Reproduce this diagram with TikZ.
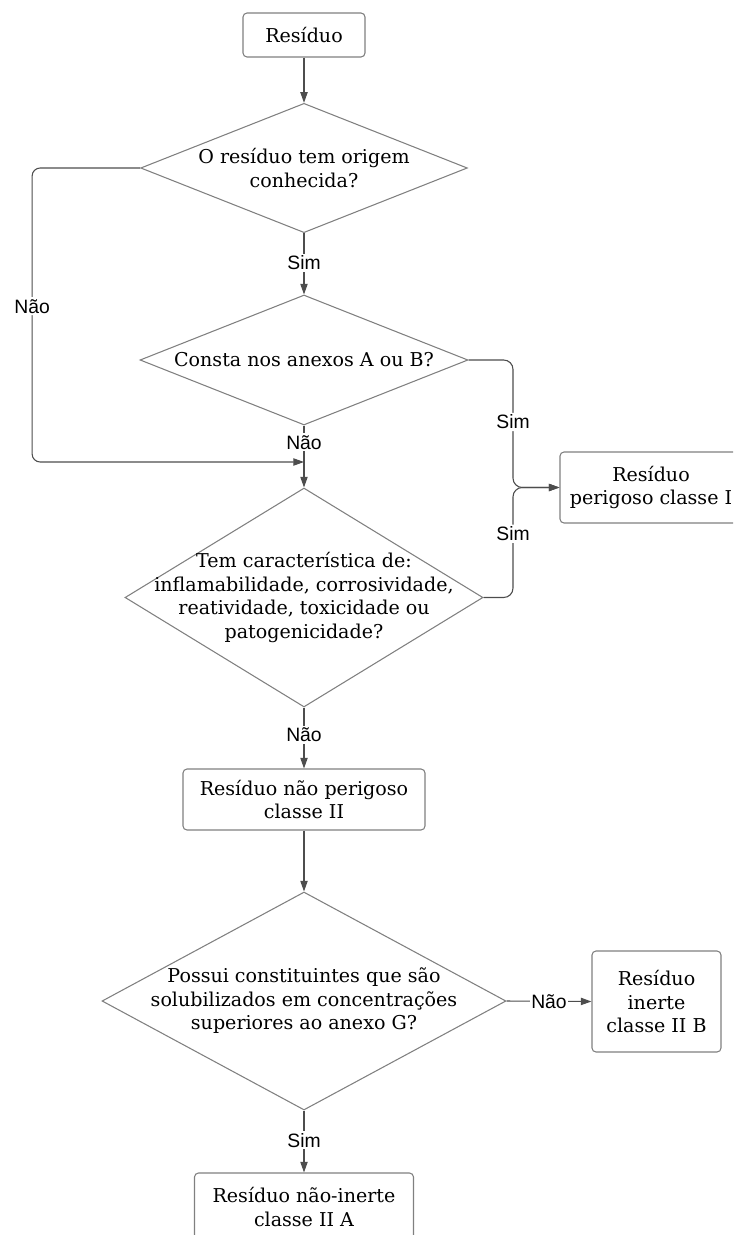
\documentclass[tikz,border=0pt]{standalone}
\usepackage{fontspec}
\setmainfont{DejaVu Serif}
\setsansfont{Liberation Sans}
\usepackage{xcolor}
\usetikzlibrary{arrows.meta,positioning,shapes.geometric}
\definecolor{linegray}{HTML}{4D4D4D}
\definecolor{boxgray}{HTML}{808080}

\begin{document}
\begin{tikzpicture}[x=0.75pt,y=-0.75pt,
  font=\fontsize{14.3}{17.6}\selectfont,
  proc/.style={draw=boxgray,line width=0.8pt,rounded corners=3pt,align=center,inner sep=0pt},
  decision/.style={diamond,draw=boxgray,line width=0.8pt,aspect=1,inner sep=-60pt,align=center},
  flow/.style={draw=linegray,line width=0.8pt,-{Triangle[length=8pt,width=5.5pt]}},
  lbl/.style={fill=white,inner sep=1.5pt,font=\sffamily\fontsize{14.5}{16}\selectfont}]
  % page frame (right and bottom boxes run off the edge)
  \useasboundingbox (0,0) rectangle (733,1235);
  \clip (0,0) rectangle (733,1235);
  % main column
  \node[proc,minimum width=91.5pt,minimum height=33pt] (res) at (304,35) {Resíduo};
  \node[decision,minimum width=245pt,minimum height=97pt] (orig) at (304,168)
    {O resíduo tem origem\\conhecida?};
  \node[decision,minimum width=246pt,minimum height=97.5pt] (anex) at (304,360)
    {Consta nos anexos A ou B?};
  \node[decision,minimum width=268.5pt,minimum height=164.25pt] (carac) at (304,597.5)
    {Tem característica de:\\inflamabilidade, corrosividade,\\reatividade, toxicidade ou\\patogenicidade?};
  \node[proc,minimum width=181.5pt,minimum height=45.75pt] (naoper) at (304,799.5)
    {Resíduo não perigoso\\classe II};
  \node[decision,minimum width=303pt,minimum height=163.5pt] (solub) at (304,1001)
    {Possui constituintes que são\\solubilizados em concentrações\\superiores ao anexo G?};
  \node[proc,minimum width=164.25pt,minimum height=51pt] (naoin) at (304,1207)
    {Resíduo não-inerte\\classe II A};
  % side boxes
  \node[proc,minimum width=136.5pt,minimum height=53.25pt] (perig) at (651,487.5)
    {Resíduo\\perigoso classe I};
  \node[proc,minimum width=96.75pt,minimum height=75.75pt] (inerte) at (656.5,1001.5)
    {Resíduo\\inerte\\classe II B};
  \coordinate (join) at (304,462);
  \coordinate (fork) at (513,487.5);
  % connectors
  \draw[flow] (res) -- (orig);
  \draw[flow] (orig) -- node[lbl,pos=0.48]{Sim} (anex);
  \draw[flow] (anex) -- node[lbl,pos=0.27]{Não} (carac);
  \draw[flow,rounded corners=6pt] (orig.west) -- ++(-108,0) |- node[lbl,pos=0.235]{Não} (join);
  \draw[flow,rounded corners=7pt] (anex.east) -| node[lbl,pos=0.743]{Sim} (fork) -- (perig.west);
  \draw[flow,rounded corners=7pt] (carac.east) -| node[lbl,pos=0.79]{Sim} (fork) -- (perig.west);
  \draw[flow] (carac) -- node[lbl,pos=0.45]{Não} (naoper);
  \draw[flow] (naoper) -- (solub);
  \draw[flow] (solub.east) -- node[lbl,inner sep=1pt]{Não} (inerte.west);
  \draw[flow] (solub) -- node[lbl,pos=0.48]{Sim} (naoin);
\end{tikzpicture}
\end{document}
